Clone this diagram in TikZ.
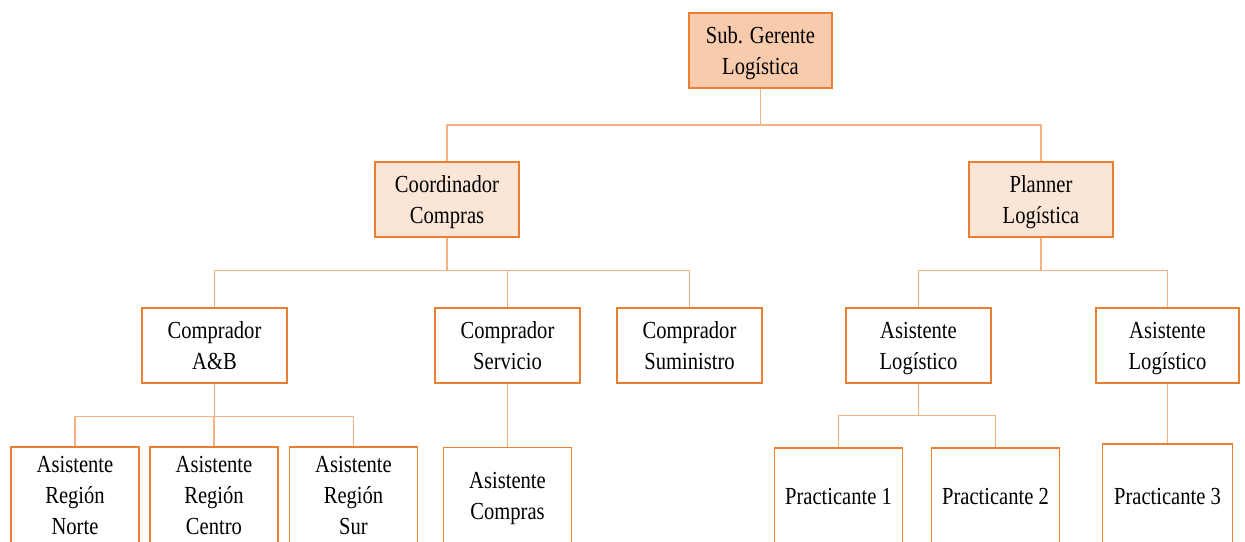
\documentclass[tikz,border=0pt]{standalone}
\usepackage{fontspec}
\setmainfont{Liberation Serif}[FakeStretch=0.84]
\definecolor{borde}{HTML}{ED7D31}
\definecolor{linea}{HTML}{F4B183}
\definecolor{fuerte}{HTML}{F8CBAD}
\definecolor{suave}{HTML}{FBE5D6}
\newcommand{\tx}[1]{\begin{tabular}[t]{@{}c@{}}#1\end{tabular}}
\begin{document}
\begin{tikzpicture}[x=1pt,y=-1pt,
  box/.style={draw=borde,line width=1.6pt,fill=white,inner sep=0pt,
    font=\fontsize{24.5}{31}\selectfont,minimum width=145pt,minimum height=75pt},
  lowbox/.style={box,minimum width=128pt,minimum height=96pt},
  one/.style={text height=16pt,text depth=0pt},
  two/.style={text height=0pt,text depth=14pt},
  three/.style={text height=0pt,text depth=45pt},
  conn/.style={draw=linea,line width=1.6pt}]
\useasboundingbox (0,0) rectangle (1245,541);
\clip (0,0) rectangle (1245,541);
\node[box,two,fill=fuerte,minimum width=143pt] (sg) at (760.5,50.5) {\tx{Sub. Gerente\\Logística}};
\node[box,two,fill=suave,minimum width=144pt] (cc) at (447,199.5) {\tx{Coordinador\\Compras}};
\node[box,two,fill=suave,minimum width=144pt] (pl) at (1041,199.5) {\tx{Planner\\Logística}};
\node[box,two] (cab) at (214.5,345.5) {\tx{Comprador\\A\&B}};
\node[box,two] (cse) at (507.5,345.5) {\tx{Comprador\\Servicio}};
\node[box,two] (csu) at (689.5,345.5) {\tx{Comprador\\Suministro}};
\node[box,two] (al1) at (918.5,345.5) {\tx{Asistente\\Logístico}};
\node[box,two,minimum width=143pt] (al2) at (1167.5,345.5) {\tx{Asistente\\Logístico}};
\node[lowbox,three] (arn) at (75,495) {\tx{Asistente\\Región\\Norte}};
\node[lowbox,three] (arc) at (214,495) {\tx{Asistente\\Región\\Centro}};
\node[lowbox,three] (ars) at (353.5,495) {\tx{Asistente\\Región\\Sur}};
\node[lowbox,two] (aco) at (507.5,495.5) {\tx{Asistente\\Compras}};
\node[lowbox,one] (pr1) at (838.5,496) {\tx{Practicante 1}};
\node[lowbox,one] (pr2) at (995.5,496) {\tx{Practicante 2}};
\node[lowbox,one,minimum width=130pt,minimum height=104pt] (pr3) at (1167.5,496) {\tx{Practicante 3}};
% connectors
\draw[conn] (sg.south) -- ++(0,36) -| (cc.north);
\draw[conn] (sg.south) -- ++(0,36) -| (pl.north);
\draw[conn] (cc.south) -- ++(0,32.5) -| (cab.north);
\draw[conn] (cc.south) -- ++(0,32.5) -| (cse.north);
\draw[conn] (cc.south) -- ++(0,32.5) -| (csu.north);
\draw[conn] (pl.south) -- ++(0,32.5) -| (al1.north);
\draw[conn] (pl.south) -- ++(0,32.5) -| (al2.north);
\draw[conn] (cab.south) -- ++(0,32.5) -| (arn.north);
\draw[conn] (cab.south) -- ++(0,32.5) -| (arc.north);
\draw[conn] (cab.south) -- ++(0,32.5) -| (ars.north);
\draw[conn] (cse.south) -- (aco.north);
\draw[conn] (al1.south) -- ++(0,31.5) -| (pr1.north);
\draw[conn] (al1.south) -- ++(0,31.5) -| (pr2.north);
\draw[conn] (al2.south) -- (pr3.north);
\end{tikzpicture}
\end{document}
